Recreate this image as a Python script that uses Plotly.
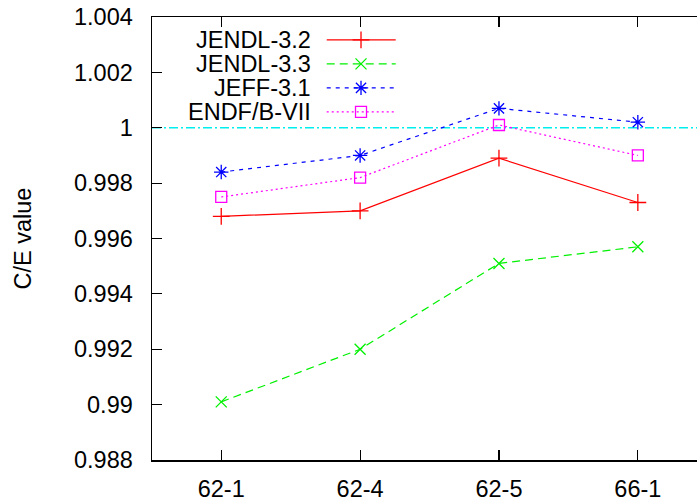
import plotly.graph_objects as go

# ---- data ----
categories = ["62-1", "62-4", "62-5", "66-1"]
jendl32 = [0.9968, 0.9970, 0.9989, 0.9973]
jendl33 = [0.9901, 0.9920, 0.9951, 0.9957]
jeff31 = [0.9984, 0.9990, 1.0007, 1.0002]
endfb7 = [0.9975, 0.9982, 1.0001, 0.9990]
series_names = ["JENDL-3.2", "JENDL-3.3", "JEFF-3.1", "ENDF/B-VII"]
reference_value = 1.0
y_ticks = [0.988, 0.990, 0.992, 0.994, 0.996, 0.998, 1.000, 1.002, 1.004]
y_tick_labels = ["0.988", "0.99", "0.992", "0.994", "0.996", "0.998", "1", "1.002", "1.004"]
y_title = "C/E value"

# ---- styles ----
FONT = "Liberation Sans, Arial, Helvetica, sans-serif"
styles = [
    dict(color="#ff0000", dash="solid", symbol="cross-thin-open", size=12),
    dict(color="#00f000", dash="8px,5px", symbol="x-thin-open", size=11),
    dict(color="#0000ff", dash="4px,5px", symbol="asterisk-open", size=12),
    dict(color="#ff00ff", dash="2px,3px", symbol="square-open", size=11),
]
all_series = [jendl32, jendl33, jeff31, endfb7]
xpos = list(range(1, len(categories) + 1))

fig = go.Figure()
for vals, st in zip(all_series, styles):
    fig.add_trace(go.Scatter(
        x=xpos, y=vals, mode="lines+markers",
        line=dict(color=st["color"], width=1.2, dash=st["dash"]),
        marker=dict(symbol=st["symbol"], size=st["size"], color=st["color"],
                    line=dict(color=st["color"], width=1.3)),
        showlegend=False,
    ))

# reference line at 1
fig.add_shape(type="line", xref="paper", x0=0, x1=1, yref="y",
              y0=reference_value, y1=reference_value,
              line=dict(color="#00eeee", width=1.3, dash="9px,3px,2px,3px"),
              layer="below")

# ---- manual gnuplot-style key (text right, sample left->right) ----
key_rows = [0.9484, 0.8942, 0.8400, 0.7858]
key_text_x = 0.293
key_line_x = [0.3206, 0.4472]
key_mark_x = 0.3835
for name, st, ry in zip(series_names, styles, key_rows):
    fig.add_trace(go.Scatter(
        x=key_line_x, y=[ry, ry], xaxis="x2", yaxis="y2", mode="lines",
        line=dict(color=st["color"], width=1.2, dash=st["dash"]),
        showlegend=False, hoverinfo="skip"))
    fig.add_trace(go.Scatter(
        x=[key_mark_x], y=[ry], xaxis="x2", yaxis="y2", mode="markers",
        marker=dict(symbol=st["symbol"], size=st["size"], color=st["color"],
                    line=dict(color=st["color"], width=1.3)),
        showlegend=False, hoverinfo="skip"))
    fig.add_annotation(text=name, xref="paper", yref="paper", x=key_text_x, y=ry,
                       xanchor="right", yanchor="middle", showarrow=False,
                       height=22, borderpad=0,
                       font=dict(family=FONT, size=23.5, color="black"))

# y-axis title
fig.add_annotation(text=y_title, xref="paper", yref="paper", x=-0.2367, y=0.5,
                   xanchor="center", yanchor="middle", textangle=-90, showarrow=False,
                   font=dict(family=FONT, size=23.5, color="black"))

fig.update_layout(
    width=697, height=502,
    margin=dict(l=152, r=0, t=17, b=39),
    paper_bgcolor="white", plot_bgcolor="white",
    font=dict(family=FONT, size=23.5, color="black"),
    hovermode=False,
    xaxis=dict(
        range=[0.5014, 4.426], tickmode="array", tickvals=xpos, ticktext=categories,
        showgrid=False, zeroline=False, showline=True, linecolor="black", linewidth=1.5,
        mirror="ticks", ticks="inside", ticklen=10, tickwidth=1.2, tickcolor="black",
        ticklabelstandoff=7,
    ),
    yaxis=dict(
        range=[0.988, 1.004], tickmode="array", tickvals=y_ticks, ticktext=y_tick_labels,
        showgrid=False, zeroline=False, showline=True, linecolor="black", linewidth=1.5,
        ticks="inside", ticklen=10, tickwidth=1.2, tickcolor="black",
        ticklabelstandoff=13,
    ),
    xaxis2=dict(overlaying="x", range=[0, 1], visible=False, domain=[0, 1]),
    yaxis2=dict(overlaying="y", range=[0, 1], visible=False, domain=[0, 1]),
)

fig.write_html("out.html",
               config={"displayModeBar": False, "staticPlot": True},
               post_script="document.body.style.margin='0';document.body.style.overflow='hidden';")
